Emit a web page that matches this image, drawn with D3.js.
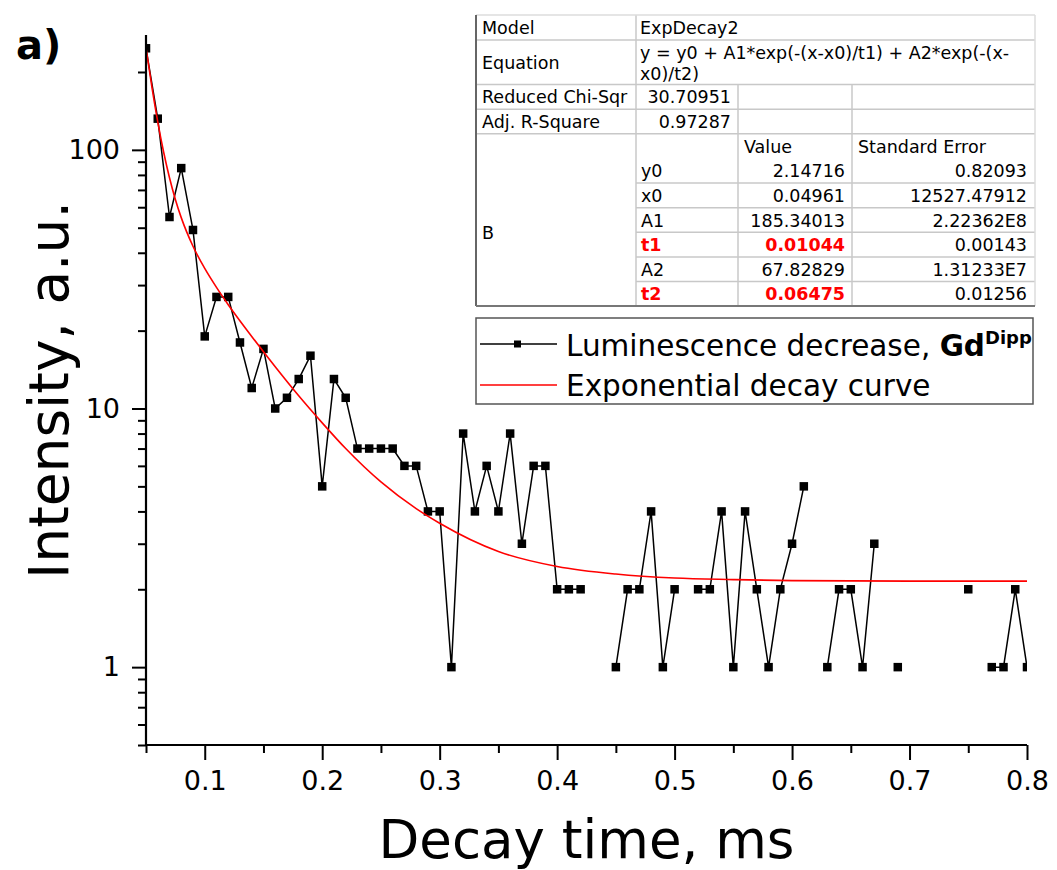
<!DOCTYPE html>
<html>
<head>
<meta charset="utf-8">
<script src="https://cdn.jsdelivr.net/npm/d3@7"></script>
<style>
  body { margin: 0; background: #fff; }
  svg { display: block; font-family: "DejaVu Sans", Verdana, sans-serif; }
</style>
</head>
<body>
<div id="chart"></div>
<script>
// decay time, ms
let times = [0.05,0.06,0.07,0.08,0.09,0.10,0.11,0.12,0.13,0.14,0.15,0.16,0.17,0.18,0.19,0.20,
  0.21,0.22,0.23,0.24,0.25,0.26,0.27,0.28,0.29,0.30,0.31,0.32,0.33,0.34,0.35,0.36,0.37,0.38,
  0.39,0.40,0.41,0.42,0.43,0.44,0.45,0.46,0.47,0.48,0.49,0.50,0.51,0.52,0.53,0.54,0.55,0.56,
  0.57,0.58,0.59,0.60,0.61,0.62,0.63,0.64,0.65,0.66,0.67,0.68,0.69,0.70,0.71,0.72,0.73,0.74,
  0.75,0.76,0.77,0.78,0.79,0.80];
// luminescence counts (0 = not plotted on log axis)
let counts = [247,132,55,85,49,19,27,27,18,12,17,10,11,13,16,5,
  13,11,7,7,7,7,6,6,4,4,1,8,4,6,4,8,3,6,
  6,2,2,2,0,0,1,2,2,4,1,2,0,2,2,4,1,4,
  2,1,2,3,5,0,1,2,2,1,3,0,1,0,0,0,0,0,
  2,0,1,1,2,1];

// fitted curve
let fitTimes = [0.05,0.055,0.06,0.065,0.07,0.075,0.08,0.09,0.10,0.11,0.12,0.14,0.16,0.18,0.20,
  0.22,0.25,0.28,0.30,0.35,0.40,0.45,0.50,0.55,0.60,0.70,0.80];
let fitValues = [248.1,175.2,128.4,98.1,78.0,64.3,54.7,42.4,34.8,29.4,25.2,19.0,14.5,11.2,8.8,
  7.0,5.2,4.1,3.6,2.8,2.45,2.29,2.21,2.18,2.16,2.15,2.15];

let xMajor = [0.1,0.2,0.3,0.4,0.5,0.6,0.7,0.8];
let xMinor = [0.05,0.15,0.25,0.35,0.45,0.55,0.65,0.75];
let yMajor = [1,10,100];
let yMinor = [0.5,0.6,0.7,0.8,0.9,2,3,4,5,6,7,8,9,20,30,40,50,60,70,80,90,200];

// fit report table
let statLabels = ["Model","Equation","Reduced Chi-Sqr","Adj. R-Square"];
let statValues = ["ExpDecay2","y = y0 + A1*exp(-(x-x0)/t1) + A2*exp(-(x-|x0)/t2)","30.70951","0.97287"];
let paramNames = ["y0","x0","A1","t1","A2","t2"];
let paramValues = ["2.14716","0.04961","185.34013","0.01044","67.82829","0.06475"];
let paramErrors = ["0.82093","12527.47912","2.22362E8","0.00143","1.31233E7","0.01256"];
let highlighted = ["t1","t2"];

let legendLabels = ["Luminescence decrease, ", "Exponential decay curve"];

let width = 1057, height = 870;
let margin = {top: 35, right: 30, bottom: 125, left: 146};

let svg = d3.select("#chart").append("svg")
  .attr("width", width)
  .attr("height", height);

let x = d3.scaleLinear().domain([0.05, 0.8]).range([margin.left, width - margin.right]);
let y = d3.scaleLog().domain([0.5, 278]).range([height - margin.bottom, margin.top]);

svg.append("clipPath").attr("id", "plot")
  .append("rect")
  .attr("x", margin.left).attr("y", margin.top)
  .attr("width", width - margin.left - margin.right)
  .attr("height", height - margin.top - margin.bottom);

let points = times.map((t, i) => ({t: t, v: counts[i]}));

let plot = svg.append("g").attr("clip-path", "url(#plot)");

plot.append("path")
  .datum(points)
  .attr("fill", "none")
  .attr("stroke", "#000")
  .attr("stroke-width", 1.5)
  .attr("d", d3.line().defined(d => d.v > 0).x(d => x(d.t)).y(d => y(d.v)));

plot.selectAll("rect.pt")
  .data(points.filter(d => d.v > 0))
  .join("rect")
    .attr("class", "pt")
    .attr("x", d => x(d.t) - 4.25)
    .attr("y", d => y(d.v) - 4.25)
    .attr("width", 8.5)
    .attr("height", 8.5)
    .attr("fill", "#000");

plot.append("path")
  .datum(fitTimes.map((t, i) => [t, fitValues[i]]))
  .attr("fill", "none")
  .attr("stroke", "#ff0000")
  .attr("stroke-width", 1.6)
  .attr("d", d3.line().curve(d3.curveMonotoneX).x(d => x(d[0])).y(d => y(d[1])));

// axes
let xAxisY = height - margin.bottom;
let gx = svg.append("g").attr("transform", `translate(0,${xAxisY})`);
gx.call(d3.axisBottom(x).tickValues(xMinor).tickSize(8).tickFormat(""))
  .call(g => g.select(".domain").remove());
gx.append("g").call(d3.axisBottom(x).tickValues(xMajor).tickSize(15).tickPadding(11)
    .tickFormat(d3.format(".1f")))
  .call(g => g.select(".domain").remove())
  .call(g => g.selectAll("text").attr("font-size", 27).attr("fill", "#000")
    .attr("font-family", "DejaVu Sans"));

let gy = svg.append("g").attr("transform", `translate(${margin.left},0)`);
gy.call(d3.axisLeft(y).tickValues(yMinor).tickSize(8).tickFormat(""))
  .call(g => g.select(".domain").remove());
gy.append("g").call(d3.axisLeft(y).tickValues(yMajor).tickSize(14).tickPadding(12)
    .tickFormat(d3.format("d")))
  .call(g => g.select(".domain").remove())
  .call(g => g.selectAll("text").attr("font-size", 27).attr("fill", "#000")
    .attr("font-family", "DejaVu Sans"));

svg.selectAll(".tick line").attr("stroke", "#000").attr("stroke-width", 2);

svg.append("line")
  .attr("x1", margin.left).attr("x2", width - margin.right)
  .attr("y1", xAxisY).attr("y2", xAxisY)
  .attr("stroke", "#000").attr("stroke-width", 2.2);
svg.append("line")
  .attr("x1", margin.left).attr("x2", margin.left)
  .attr("y1", margin.top).attr("y2", xAxisY + 1)
  .attr("stroke", "#000").attr("stroke-width", 2.2);

// titles
svg.append("text")
  .attr("x", (margin.left + width - margin.right) / 2)
  .attr("y", 858)
  .attr("text-anchor", "middle")
  .attr("font-size", 53)
  .text("Decay time, ms");

svg.append("text")
  .attr("transform", `translate(68,${(margin.top + xAxisY) / 2}) rotate(-90)`)
  .attr("text-anchor", "middle")
  .attr("font-size", 55)
  .text("Intensity, a.u.");

svg.append("text")
  .attr("x", 16).attr("y", 59)
  .attr("font-size", 40)
  .attr("font-weight", "bold")
  .text("a)");

// fit table
let cols = [476, 636, 738, 852, 1035];
let rows = [15, 40, 84.5, 109.3, 133.7, 158.5, 183, 207.7, 232.3, 257, 281.5, 306];
let tbl = svg.append("g").attr("font-size", 17.5);
let grid = "#c8c8c8";

tbl.append("rect")
  .attr("x", cols[0]).attr("y", rows[0])
  .attr("width", cols[4] - cols[0]).attr("height", rows[11] - rows[0])
  .attr("fill", "#fff");

[1, 2, 3, 4].forEach(i => tbl.append("line")
  .attr("x1", cols[0]).attr("x2", cols[4]).attr("y1", rows[i]).attr("y2", rows[i])
  .attr("stroke", grid).attr("stroke-width", 1.5));
[6, 7, 8, 9, 10].forEach(i => tbl.append("line")
  .attr("x1", cols[1]).attr("x2", cols[4]).attr("y1", rows[i]).attr("y2", rows[i])
  .attr("stroke", grid).attr("stroke-width", 1.5));
tbl.append("line").attr("x1", cols[1]).attr("x2", cols[1]).attr("y1", rows[0]).attr("y2", rows[11])
  .attr("stroke", grid).attr("stroke-width", 1.5);
[2, 3].forEach(i => tbl.append("line")
  .attr("x1", cols[i]).attr("x2", cols[i]).attr("y1", rows[2]).attr("y2", rows[11])
  .attr("stroke", grid).attr("stroke-width", 1.5));
// outer border
tbl.append("line").attr("x1", cols[0]).attr("x2", cols[4]).attr("y1", rows[0]).attr("y2", rows[0])
  .attr("stroke", "#ddd").attr("stroke-width", 1.5);
tbl.append("line").attr("x1", cols[4]).attr("x2", cols[4]).attr("y1", rows[0]).attr("y2", rows[11])
  .attr("stroke", "#ddd").attr("stroke-width", 1.5);
tbl.append("line").attr("x1", cols[0]).attr("x2", cols[0]).attr("y1", rows[0]).attr("y2", rows[11])
  .attr("stroke", "#666").attr("stroke-width", 2);
tbl.append("line").attr("x1", cols[0]).attr("x2", cols[4]).attr("y1", rows[11]).attr("y2", rows[11])
  .attr("stroke", "#777").attr("stroke-width", 2);

function cellText(txt, x0, y0, anchor) {
  return tbl.append("text").attr("x", x0).attr("y", y0).attr("text-anchor", anchor || "start").text(txt);
}
let base = (r0, r1) => (r0 + r1) / 2 + 6.5;

cellText(statLabels[0], cols[0] + 6, base(rows[0], rows[1]));
cellText(statValues[0], cols[1] + 4, base(rows[0], rows[1]));
cellText(statLabels[1], cols[0] + 6, base(rows[1], rows[2]));
statValues[1].split("|").forEach((s, i) => cellText(s, cols[1] + 4, rows[1] + 19 + i * 21));
cellText(statLabels[2], cols[0] + 6, base(rows[2], rows[3]));
cellText(statValues[2], cols[2] - 7, base(rows[2], rows[3]), "end");
cellText(statLabels[3], cols[0] + 6, base(rows[3], rows[4]));
cellText(statValues[3], cols[2] - 7, base(rows[3], rows[4]), "end");
cellText("Value", cols[2] + 6, base(rows[4], rows[5]));
cellText("Standard Error", cols[3] + 6, base(rows[4], rows[5]));
cellText("B", cols[0] + 6, base(rows[5], rows[11]));

paramNames.forEach((p, i) => {
  let b = base(rows[5 + i], rows[6 + i]);
  let hot = highlighted.includes(p);
  let a = cellText(p, cols[1] + 5, b);
  let v = cellText(paramValues[i], cols[3] - 7, b, "end");
  if (hot) {
    a.attr("fill", "#ff0000").attr("font-weight", "bold");
    v.attr("fill", "#ff0000").attr("font-weight", "bold");
  }
  cellText(paramErrors[i], cols[4] - 8, b, "end");
});

// legend
let lg = svg.append("g");
lg.append("rect")
  .attr("x", 476).attr("y", 318).attr("width", 557).attr("height", 86)
  .attr("fill", "#fff").attr("stroke", "#555").attr("stroke-width", 1.5);
lg.append("line").attr("x1", 480).attr("x2", 557).attr("y1", 344).attr("y2", 344)
  .attr("stroke", "#000").attr("stroke-width", 1.5);
lg.append("rect").attr("x", 514).attr("y", 340.5).attr("width", 7).attr("height", 7).attr("fill", "#000");
lg.append("line").attr("x1", 480).attr("x2", 557).attr("y1", 385).attr("y2", 385)
  .attr("stroke", "#ff0000").attr("stroke-width", 1.5);

let t1 = lg.append("text").attr("x", 566).attr("y", 356).attr("font-size", 29.5);
t1.append("tspan").text(legendLabels[0]);
t1.append("tspan").attr("font-weight", "bold").text("Gd");
t1.append("tspan").attr("font-weight", "bold").attr("font-size", 18).attr("dy", -12).text("Dipp");
lg.append("text").attr("x", 566).attr("y", 396).attr("font-size", 29.5).text(legendLabels[1]);
</script>
</body>
</html>
